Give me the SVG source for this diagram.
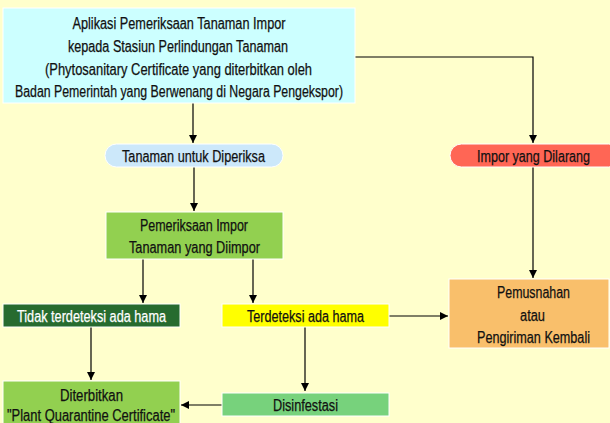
<svg xmlns="http://www.w3.org/2000/svg" width="610" height="423" viewBox="0 0 610 423">
<style>
text{font-family:"Liberation Sans","Arial",sans-serif;font-size:16px;text-anchor:middle;fill:#111;stroke:#111;stroke-width:0.25}
.w{fill:#ffffff;stroke:#ffffff}
.box{stroke:#ffffff;stroke-width:1}
.ln{stroke:#000;stroke-width:1.2;fill:none}
</style>
<defs>
<marker id="ah" viewBox="0 0 10 10" refX="10" refY="5" markerWidth="8" markerHeight="8" markerUnits="userSpaceOnUse" orient="auto">
<path d="M0,0 L10,5 L0,10 z" fill="#000"/>
</marker>
</defs>
<rect width="610" height="423" fill="#FFFFCC"/>
<g id="connectors">
<path class="ln" d="M355,57 H533 V143" marker-end="url(#ah)"/>
<path class="ln" d="M193,103 V143" marker-end="url(#ah)"/>
<path class="ln" d="M194,167 V211" marker-end="url(#ah)"/>
<path class="ln" d="M533,167 V278" marker-end="url(#ah)"/>
<path class="ln" d="M143,259 V303" marker-end="url(#ah)"/>
<path class="ln" d="M253,259 V303" marker-end="url(#ah)"/>
<path class="ln" d="M389,316 H448" marker-end="url(#ah)"/>
<path class="ln" d="M91,327 V380" marker-end="url(#ah)"/>
<path class="ln" d="M305,327 V391" marker-end="url(#ah)"/>
<path class="ln" d="M222,405 H181" marker-end="url(#ah)"/>
</g>
<g id="n-aplikasi">
<rect class="box" x="3" y="8" width="352" height="95" fill="#CCFFFF"/>
<text x="179" y="29" textLength="213" lengthAdjust="spacingAndGlyphs">Aplikasi Pemeriksaan Tanaman Impor</text>
<text x="178" y="52" textLength="220" lengthAdjust="spacingAndGlyphs">kepada Stasiun Perlindungan Tanaman</text>
<text x="178.5" y="75" textLength="267" lengthAdjust="spacingAndGlyphs">(Phytosanitary Certificate yang diterbitkan oleh</text>
<text x="179" y="97" textLength="328" lengthAdjust="spacingAndGlyphs">Badan Pemerintah yang Berwenang di Negara Pengekspor)</text>
</g>
<g id="n-tanaman">
<rect class="box" x="105" y="144" width="178" height="23" rx="11.5" fill="#CCE8FA"/>
<text x="193.5" y="162" textLength="143" lengthAdjust="spacingAndGlyphs">Tanaman untuk Diperiksa</text>
</g>
<g id="n-dilarang">
<rect class="box" x="450" y="144" width="170" height="23" rx="11.5" fill="#FF6655"/>
<text x="533.5" y="162" textLength="113" lengthAdjust="spacingAndGlyphs">Impor yang Dilarang</text>
</g>
<g id="n-pemeriksaan">
<rect class="box" x="106" y="212" width="177" height="47" fill="#92D050"/>
<text x="194" y="231" textLength="108" lengthAdjust="spacingAndGlyphs">Pemeriksaan Impor</text>
<text x="194.5" y="253" textLength="131" lengthAdjust="spacingAndGlyphs">Tanaman yang Diimpor</text>
</g>
<g id="n-tidak">
<rect class="box" x="3" y="304" width="177" height="23" fill="#276B2F"/>
<text class="w" x="91.5" y="322" textLength="149" lengthAdjust="spacingAndGlyphs">Tidak terdeteksi ada hama</text>
</g>
<g id="n-terdeteksi">
<rect class="box" x="222" y="304" width="167" height="23" fill="#FFFF00"/>
<text x="305.5" y="322" textLength="117" lengthAdjust="spacingAndGlyphs">Terdeteksi ada hama</text>
</g>
<g id="n-pemusnahan">
<rect class="box" x="449" y="279" width="160" height="69" fill="#F9BF6B"/>
<text x="533.5" y="298" textLength="73" lengthAdjust="spacingAndGlyphs">Pemusnahan</text>
<text x="532.5" y="321" textLength="25" lengthAdjust="spacingAndGlyphs">atau</text>
<text x="533.5" y="343" textLength="113" lengthAdjust="spacingAndGlyphs">Pengiriman Kembali</text>
</g>
<g id="n-diterbitkan">
<rect class="box" x="3" y="381" width="177" height="45" fill="#92D050"/>
<text x="91.5" y="401" textLength="63" lengthAdjust="spacingAndGlyphs">Diterbitkan</text>
<text x="91" y="421" textLength="168" lengthAdjust="spacingAndGlyphs">"Plant Quarantine Certificate"</text>
</g>
<g id="n-disinfestasi">
<rect class="box" x="222" y="393" width="167" height="23" fill="#77D27C"/>
<text x="305.5" y="411" textLength="65" lengthAdjust="spacingAndGlyphs">Disinfestasi</text>
</g>
</svg>
